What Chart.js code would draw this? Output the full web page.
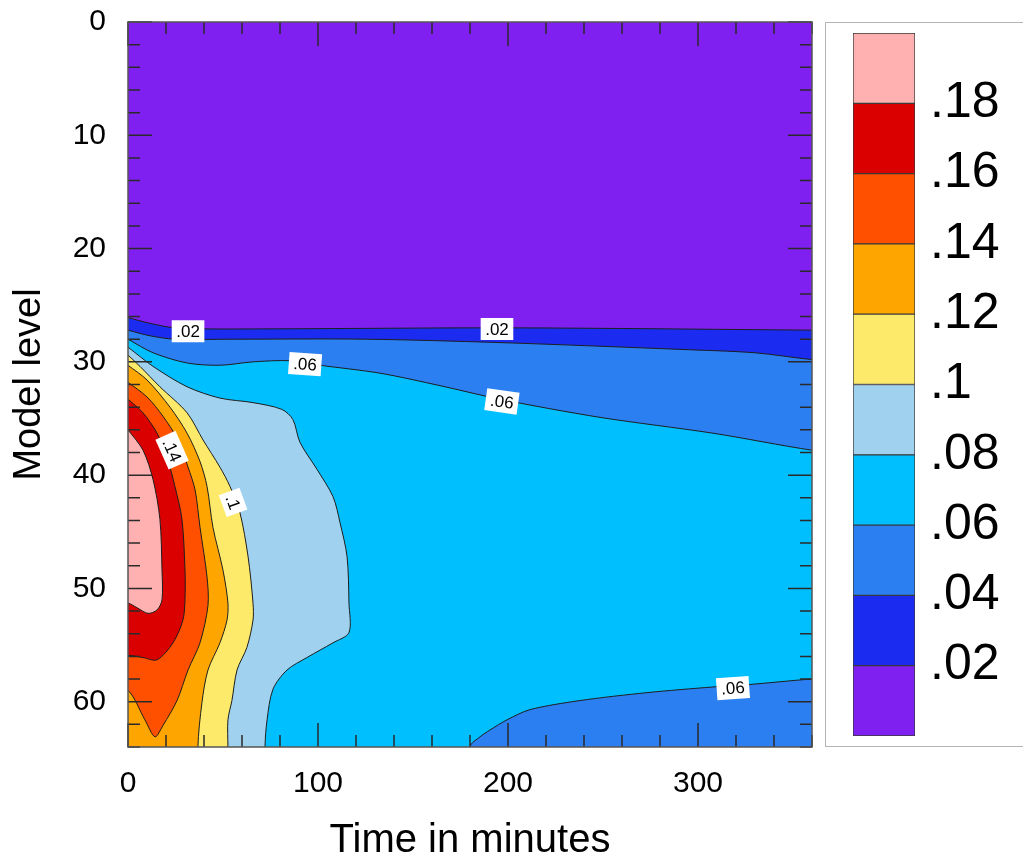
<!DOCTYPE html>
<html>
<head>
<meta charset="utf-8">
<script src="https://cdn.jsdelivr.net/npm/chart.js@4.4.1/dist/chart.umd.min.js"></script>
<style>
    html, body { margin: 0; padding: 0; background: #fff; overflow: hidden; }
    #wrap { position: relative; width: 1023px; height: 861px; }
    #field { position: absolute; left: 0; top: 0; }
    #keybox { position: absolute; left: 825px; top: 22px; width: 230px; height: 725px;
              border: 1px solid #b4b4b4; box-sizing: border-box; }
    #key { position: absolute; left: 825px; top: 22px; }
</style>
</head>
<body>
<div id="wrap">
    <canvas id="field" width="825" height="861"></canvas>
    <div id="keybox"></div>
    <canvas id="key" width="198" height="725"></canvas>
</div>
<script>
// contour levels and fill colours (lowest band first)
const levels = [0.02, 0.04, 0.06, 0.08, 0.10, 0.12, 0.14, 0.16, 0.18];
const levelLabels = ['.02', '.04', '.06', '.08', '.1', '.12', '.14', '.16', '.18'];
const fillColors = ['#8020f0', '#1b2cf0', '#2b7ff0', '#00bfff', '#a0d2f0',
                    '#fde96a', '#ffa500', '#ff5000', '#da0000', '#ffb0b0'];

const timeTicks = [0, 100, 200, 300];
const levelTicks = [0, 10, 20, 30, 40, 50, 60];

// contour lines as [minutes, model level]
const contour02 = [[0, 26.1], [11.6, 26.6], [24.7, 27.0], [50, 27.1], [200, 27.0], [360, 27.2]];
const contour04 = [[0, 27.2], [11.6, 27.7], [24.7, 28.0], [55, 28.0], [125, 28.0], [195.8, 28.3],
                   [290.5, 28.9], [330, 29.2], [360, 29.8]];
const contour06 = [[0, 28.0], [13.2, 29.2], [31.1, 30.1], [48.4, 30.3], [65.8, 30.0], [85.3, 29.9],
                   [101, 30.3], [132.6, 31.0], [164.2, 32.1], [195.8, 33.3], [248.4, 34.9],
                   [307.9, 36.3], [360, 37.8]];
const contour06low = [[360, 58.0], [325.8, 58.5], [307.9, 58.7], [273.2, 59.2], [237.9, 59.9],
                      [211.6, 60.7], [199.5, 61.6], [190.5, 62.5], [185.3, 63.1], [180, 64]];
const contour08 = [[0, 28.7], [13.2, 30.4], [31.1, 32.2], [48.4, 33.2], [65.8, 33.6], [81, 34.2],
                   [86.8, 35.1], [90.5, 37.1], [99.5, 39.5], [107.9, 41.9], [111.6, 44.2],
                   [115.3, 47.2], [116.3, 51.3], [116.3, 53.9], [107.9, 54.8], [94.2, 56.1],
                   [83.7, 57.2], [76.3, 58.9], [73.2, 61.6], [72.1, 64]];
const contour10 = [[0, 29.4], [6.3, 30.4], [16.8, 32.2], [31.1, 34.5], [39.5, 36.9], [48.4, 39.3],
                   [53.7, 41.0], [58.9, 43.3], [63.2, 47.2], [65.8, 51.3], [65.8, 52.8],
                   [62.6, 55.2], [57.4, 57.2], [54.7, 59.9], [52.6, 61.6], [52.6, 64]];
const contour12 = [[0, 30.3], [10, 31.6], [22.1, 34.0], [31.1, 36.3], [37.9, 38.8], [41.6, 41.0],
                   [44.7, 44.6], [50, 48.4], [52.6, 51.3], [52.1, 52.8], [48.4, 54.8],
                   [42.1, 57.2], [38.9, 60.1], [36.8, 64]];
const contour14 = [[0, 31.8], [10, 33.1], [18.4, 34.8], [26.3, 36.9], [31.6, 39.3], [35.3, 41.3],
                   [37.9, 44.6], [41.6, 49.0], [42.1, 51.5], [37.9, 54.8], [31.6, 57.2],
                   [25.8, 59.9], [18.4, 62.1], [14.2, 63.1], [8.9, 61.6], [0, 59.0]];
const contour16 = [[0, 33.3], [7.9, 34.5], [15.3, 36.3], [20.5, 38.4], [24.7, 41.0], [28.4, 43.9],
                   [30, 48.4], [30, 51.0], [28.9, 52.8], [23.7, 54.8], [15.3, 56.3],
                   [7.9, 56.1], [0, 55.9]];
const contour18 = [[0, 36.0], [7.9, 37.8], [13.2, 40.4], [16.8, 43.9], [17.9, 48.4], [17.9, 51.0],
                   [15.3, 51.9], [10.5, 52.2], [4.7, 51.7], [0, 51.3]];

// inline contour labels: position, text, rotation in degrees
const contourLabels = [
    { x: 31.6, y: 27.3, text: '.02', angle: 0 },
    { x: 194.2, y: 27.1, text: '.02', angle: 0 },
    { x: 93.2, y: 30.2, text: '.06', angle: 4 },
    { x: 196.8, y: 33.5, text: '.06', angle: 8 },
    { x: 23.2, y: 37.8, text: '.14', angle: 66 },
    { x: 55.3, y: 42.4, text: '.1', angle: 70 },
    { x: 318.4, y: 58.8, text: '.06', angle: -4 }
];

const XMAX = 360, YMAX = 64, PAD = 8;
const FONT = "'Liberation Sans', Arial, Helvetica, sans-serif";

// push a point that sits on the frame just outside of it
function outward(p) {
    const [x, y] = p;
    if (x <= 0) return [-PAD, y];
    if (x >= XMAX) return [XMAX + PAD, y];
    if (y >= YMAX) return [x, YMAX + PAD];
    return [x, -PAD];
}

// close a contour into the region below / left of it, running outside the frame
function closeBelow(line) {
    const first = line[0], last = line[line.length - 1];
    const pts = line.slice();
    pts.push(outward(last));
    if (last[0] >= XMAX) pts.push([XMAX + PAD, YMAX + PAD]);
    if (last[0] > 0) pts.push([-PAD, YMAX + PAD]);
    pts.push(outward(first));
    return pts;
}

// fixed axis box sizes, without the extra room chart.js keeps for edge labels
function fixSize(key, size) {
    return s => {
        s[key] = size;
        s.paddingTop = s.paddingBottom = s.paddingLeft = s.paddingRight = 0;
    };
}

document.addEventListener('DOMContentLoaded', function() {
    Chart.defaults.font.family = FONT;
    Chart.defaults.color = '#000';

    const regions = [
        [[-PAD, -PAD], [XMAX + PAD, -PAD], [XMAX + PAD, YMAX + PAD], [-PAD, YMAX + PAD]],
        closeBelow(contour02),
        closeBelow(contour04),
        closeBelow([...contour06, outward(contour06[contour06.length - 1]),
                    outward(contour06low[0]), ...contour06low]),
        closeBelow(contour08),
        closeBelow(contour10),
        closeBelow(contour12),
        closeBelow(contour14),
        closeBelow(contour16),
        closeBelow(contour18)
    ];

    // ticks on all four sides, frame and contour labels
    const frameTicks = {
        id: 'frameTicks',
        afterDatasetsDraw(chart) {
            const { ctx, chartArea: a, scales: { x, y } } = chart;
            ctx.save();
            ctx.strokeStyle = '#2a2a2a';
            ctx.lineWidth = 1.5;
            ctx.beginPath();
            x.ticks.forEach(t => {
                const px = x.getPixelForValue(t.value);
                const len = timeTicks.includes(t.value) ? 24 : 12;
                ctx.moveTo(px, a.bottom); ctx.lineTo(px, a.bottom - len);
                ctx.moveTo(px, a.top); ctx.lineTo(px, a.top + len);
            });
            y.ticks.forEach(t => {
                const py = y.getPixelForValue(t.value);
                const len = levelTicks.includes(t.value) ? 24 : 12;
                ctx.moveTo(a.left, py); ctx.lineTo(a.left + len, py);
                ctx.moveTo(a.right, py); ctx.lineTo(a.right - len, py);
            });
            ctx.stroke();
            ctx.strokeStyle = '#555';
            ctx.strokeRect(a.left, a.top, a.width, a.height);

            ctx.font = '17px ' + FONT;
            ctx.textAlign = 'center';
            ctx.textBaseline = 'middle';
            contourLabels.forEach(l => {
                const w = ctx.measureText(l.text).width + 9;
                ctx.save();
                ctx.translate(x.getPixelForValue(l.x), y.getPixelForValue(l.y));
                ctx.rotate(l.angle * Math.PI / 180);
                ctx.fillStyle = '#fff';
                ctx.fillRect(-w / 2, -11, w, 22);
                ctx.fillStyle = '#000';
                ctx.fillText(l.text, 0, 1);
                ctx.restore();
            });
            ctx.restore();
        }
    };

    const fieldCtx = document.getElementById('field').getContext('2d');
    new Chart(fieldCtx, {
        type: 'line',
        data: {
            datasets: regions.map((pts, i) => ({
                data: pts.map(([x, y]) => ({ x, y })),
                backgroundColor: fillColors[i],
                borderColor: '#1e1e1e',
                borderWidth: i === 0 ? 0 : 1,
                fill: 'shape',
                pointRadius: 0,
                tension: 0.3,
                clip: 0,
                order: regions.length - i
            }))
        },
        options: {
            responsive: false,
            animation: false,
            events: [],
            layout: { padding: { top: 22, right: 13, left: 0, bottom: 0 } },
            plugins: { legend: { display: false }, tooltip: { enabled: false } },
            scales: {
                x: {
                    type: 'linear',
                    min: 0,
                    max: XMAX,
                    grid: { display: false, drawTicks: false },
                    border: { display: false },
                    ticks: {
                        stepSize: 20,
                        autoSkip: false,
                        maxRotation: 0,
                        padding: 19,
                        font: { size: 30 },
                        callback: v => timeTicks.includes(v) ? v : ''
                    },
                    title: {
                        display: true,
                        text: 'Time in minutes',
                        font: { size: 40, lineHeight: 1 },
                        padding: 0
                    },
                    afterFit: fixSize('height', 114)
                },
                y: {
                    type: 'linear',
                    reverse: true,
                    min: 0,
                    max: YMAX,
                    grid: { display: false, drawTicks: false },
                    border: { display: false },
                    ticks: {
                        stepSize: 2,
                        autoSkip: false,
                        padding: 22,
                        font: { size: 30 },
                        callback: v => levelTicks.includes(v) ? v : ''
                    },
                    title: {
                        display: true,
                        text: 'Model level',
                        font: { size: 38, lineHeight: 1 },
                        padding: { top: 11, bottom: 0 }
                    },
                    afterFit: fixSize('width', 128)
                }
            }
        },
        plugins: [frameTicks]
    });

    // colour key: one floating bar per band
    const keyBounds = [0, ...levels, 0.2];
    const keyCtx = document.getElementById('key').getContext('2d');
    new Chart(keyCtx, {
        type: 'bar',
        data: {
            labels: [''],
            datasets: fillColors.map((c, i) => ({
                data: [[keyBounds[i], keyBounds[i + 1]]],
                backgroundColor: c,
                borderColor: '#3a3a3a',
                borderWidth: 1,
                borderSkipped: false,
                barPercentage: 1,
                categoryPercentage: 1,
                grouped: false
            }))
        },
        options: {
            responsive: false,
            animation: false,
            events: [],
            layout: { padding: { top: 11, bottom: 11, left: 28, right: 0 } },
            plugins: { legend: { display: false }, tooltip: { enabled: false } },
            scales: {
                x: { display: false, stacked: true },
                y: {
                    position: 'right',
                    min: 0,
                    max: 0.2,
                    grid: { display: false, drawTicks: false },
                    border: { display: false },
                    afterBuildTicks: s => { s.ticks = levels.map(v => ({ value: v })); },
                    ticks: {
                        padding: 15,
                        font: { size: 50 },
                        callback: (v, i) => levelLabels[i]
                    },
                    afterFit: fixSize('width', 108)
                }
            }
        }
    });
});
</script>
</body>
</html>
